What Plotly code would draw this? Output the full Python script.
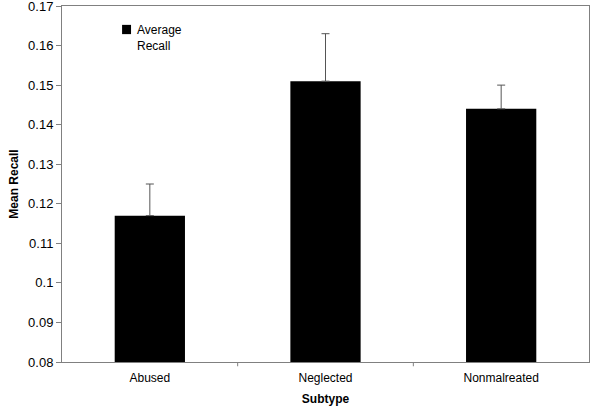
import plotly.graph_objects as go

categories = ["Abused", "Neglected", "Nonmalreated"]
mean_recall = [0.117, 0.151, 0.144]
error_plus = [0.008, 0.012, 0.006]
y_ticks = [0.08, 0.09, 0.10, 0.11, 0.12, 0.13, 0.14, 0.15, 0.16, 0.17]
y_tick_labels = ["0.08", "0.09", "0.1", "0.11", "0.12", "0.13", "0.14", "0.15", "0.16", "0.17"]
series_name = "Average<br>Recall"

fig = go.Figure()
fig.add_trace(go.Bar(
    x=categories, y=mean_recall, name=series_name,
    marker=dict(color="black", line=dict(width=0)),
    width=0.4, showlegend=False,
    error_y=dict(type="data", array=error_plus, arrayminus=[0, 0, 0], symmetric=False,
                 color="#555555", thickness=1, width=4),
))

fig.update_layout(
    width=601, height=410,
    margin=dict(l=62, r=12, t=6, b=48),
    paper_bgcolor="white", plot_bgcolor="white",
    font=dict(family="Liberation Sans, Arial, sans-serif", size=12, color="black"),
    showlegend=False,
    xaxis=dict(
        title=dict(text="<b>Subtype</b>", font=dict(size=12), standoff=10),
        showline=True, linecolor="#808080", linewidth=1, mirror=True,
        ticks="", showgrid=False, zeroline=False, automargin=False,
        tickfont=dict(size=12), ticklabelstandoff=5,
    ),
    yaxis=dict(
        title=dict(text="<b>Mean Recall</b>", font=dict(size=12), standoff=6),
        range=[0.08, 0.17], tickvals=y_ticks, ticktext=y_tick_labels,
        showline=True, linecolor="#808080", linewidth=1, mirror=True,
        ticks="outside", ticklen=5, tickcolor="#808080",
        showgrid=False, zeroline=False, automargin=False,
        tickfont=dict(size=13), ticklabeloverflow="allow",
    ),
)

# legend key (swatch + label)
fig.add_shape(type="rect", xref="paper", yref="paper",
              x0=0.114, x1=0.131, y0=0.921, y1=0.947,
              fillcolor="black", line=dict(width=0))
fig.add_annotation(xref="paper", yref="paper", x=0.138, y=0.958,
                   xanchor="left", yanchor="top", align="left",
                   text=series_name, showarrow=False, font=dict(size=12))

# category-boundary tick marks on x axis
for i in range(1, len(categories)):
    fig.add_shape(type="line", xref="x", yref="paper", x0=i - 0.5, x1=i - 0.5,
                  y0=0, y1=-0.012, line=dict(color="#808080", width=1))

fig.write_html("out.html", config={"displayModeBar": False},
               post_script="document.body.style.margin='0';")
